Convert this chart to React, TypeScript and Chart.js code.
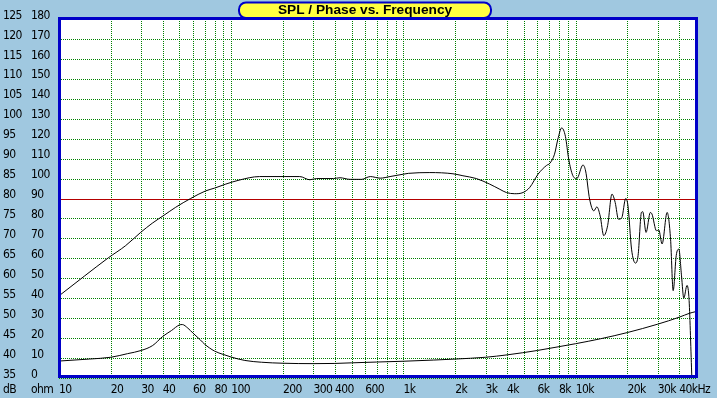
import { useEffect, useRef } from 'react';
import { Chart, registerables } from 'chart.js';

Chart.register(...registerables);

const TITLE = 'SPL / Phase vs. Frequency';

const SPL_FREQ = [10, 14, 19.3, 24.4, 29.8, 34.8, 40.7, 47.6, 58.1, 71, 80, 92.9, 111, 146, 205, 250, 286, 313, 392, 428, 490, 573, 642, 733, 836, 1000, 1068, 1424, 1940, 2217, 2652, 3170, 3631, 3960, 4430, 4950, 5420, 6050, 6780, 7080, 7540, 7880, 8300, 8720, 9120, 9620, 10160, 11030, 11430, 12060, 12760, 13280, 13890, 14560, 15340, 16260, 16970, 17730, 18540, 19530, 20130, 21120, 22260, 23050, 24100, 24530, 25640, 27150, 27750, 29490, 30400, 31770, 33990, 35590, 36850, 38380, 39760, 41200, 42470, 44330, 45600, 47300];
const SPL_DB = [55.6, 60.5, 65.1, 68.2, 71.5, 73.8, 75.8, 77.8, 80, 81.9, 82.6, 83.6, 84.6, 85.5, 85.5, 85.5, 84.7, 85, 85, 85.2, 84.8, 84.8, 85.5, 85.1, 85.5, 86.1, 86.3, 86.5, 86.2, 85.7, 85, 83.6, 82.3, 81.5, 81.2, 81.5, 82.8, 86.1, 88.3, 88.8, 91.1, 94.8, 97.7, 95.6, 89.8, 85.8, 85, 88.4, 86.9, 79.8, 76.9, 77.9, 75.6, 70.7, 73.2, 81.1, 79, 74.8, 75.2, 80, 78.2, 67.3, 63.8, 65.7, 76.5, 76.7, 71.5, 76.5, 76.1, 71.9, 72.1, 68.6, 76.5, 69.8, 56.9, 65.7, 67.3, 60.6, 55, 58.2, 54.4, 35];

const IMP_FREQ = [10, 15, 20, 25, 30, 35, 40, 45, 50, 52, 56, 60, 66, 70, 80, 90, 100, 120, 150, 200, 300, 400, 500, 700, 1000, 1500, 2000, 3000, 4000, 6000, 8000, 10000, 14000, 20000, 30000, 40000, 46000, 50000];
const IMP_OHM = [8.5, 9.5, 10.4, 12.2, 13.8, 16.3, 20.8, 23.8, 26.6, 26.8, 25, 22.5, 19.2, 17, 13.5, 11.8, 10.5, 8.8, 7.9, 7.4, 7.2, 7.3, 7.6, 8, 8.4, 9, 9.5, 10.4, 11.6, 13.8, 15.7, 17.2, 19.7, 22.8, 27, 30.5, 32.5, 33.3];

const X_TICKS = [10, 20, 30, 40, 50, 60, 70, 80, 90, 100, 200, 300, 400, 500, 600, 700, 800, 900, 1000, 2000, 3000, 4000, 5000, 6000, 7000, 8000, 9000, 10000, 20000, 30000, 40000, 50000];
const X_LABELS: Record<number, string> = {
  10: '10', 20: '20', 30: '30', 40: '40', 60: '60', 80: '80', 100: '100',
  200: '200', 300: '300', 400: '400', 600: '600', 1000: '1k', 2000: '2k',
  3000: '3k', 4000: '4k', 6000: '6k', 8000: '8k', 10000: '10k', 20000: '20k',
  30000: '30k', 40000: '40kHz',
};
const DB_MIN = 35;
const DB_MAX = 125;
const DB_STEP = 5;
const DB_REF = 80;
const OHM_MIN = 0;
const OHM_MAX = 180;
const OHM_STEP = 10;

const BG = '#a0c8e0';
const BLUE = '#0000c8';
const GREEN = '#008000';
const RED = '#b40000';
const YELLOW = '#ffff40';

function hasFont(name: string): boolean {
  const c = document.createElement('canvas').getContext('2d');
  if (!c) return false;
  const t = 'mmmwwwlli1250ohm';
  c.font = '20px monospace';
  const a = c.measureText(t).width;
  c.font = `20px "${name}", monospace`;
  const b = c.measureText(t).width;
  return Math.abs(a - b) > 0.5;
}

export default function App() {
  const ref = useRef<HTMLCanvasElement>(null);

  useEffect(() => {
    document.body.style.margin = '0';
    const canvas = ref.current;
    if (!canvas) return;

    let family = "'Liberation Sans', Arial, sans-serif";
    let size = 12;
    let spacing = '-0.5px';
    for (const n of ['Liberation Sans Narrow', 'Arial Narrow', 'DejaVu Sans Condensed', 'Noto Sans Condensed']) {
      if (hasFont(n)) {
        family = `'${n}', sans-serif`;
        size = n === 'Liberation Sans Narrow' || n === 'Arial Narrow' ? 13 : 12;
        spacing = n === 'Liberation Sans Narrow' || n === 'Arial Narrow' ? '0px' : '-0.6px';
        break;
      }
    }

    const dots = (ctx: CanvasRenderingContext2D, x: number, y: number, w: number, h: number) => {
      if (w === 1) {
        for (let yy = y; yy < y + h; yy += 2) ctx.fillRect(x, yy, 1, 1);
      } else {
        for (let xx = x; xx < x + w; xx += 2) ctx.fillRect(xx, y, 1, 1);
      }
    };

    const deco = {
      id: 'deco',
      beforeDraw(chart: any) {
        const { ctx, chartArea: a } = chart;
        ctx.save();
        ctx.fillStyle = BG;
        ctx.fillRect(0, 0, chart.width, chart.height);
        ctx.fillStyle = '#ffffff';
        ctx.fillRect(a.left, a.top, a.right - a.left, a.bottom - a.top);
        ctx.restore();
        ctx.letterSpacing = spacing;
      },
      beforeDatasetsDraw(chart: any) {
        const { ctx, chartArea: a, scales } = chart;
        const xs = scales.x;
        const ys = scales.y;
        const top = Math.round(a.top);
        const bottom = Math.round(a.bottom);
        const left = Math.round(a.left);
        const right = Math.round(a.right);
        ctx.save();
        ctx.fillStyle = GREEN;
        for (const v of X_TICKS) {
          const px = Math.round(xs.getPixelForValue(v));
          dots(ctx, px, top, 1, bottom - top);
        }
        for (let v = DB_MIN; v <= DB_MAX; v += DB_STEP) {
          const py = Math.round(ys.getPixelForValue(v));
          if (v === DB_REF) {
            ctx.fillStyle = RED;
            ctx.fillRect(left, py, right - left, 1);
            ctx.fillStyle = GREEN;
          } else {
            dots(ctx, left, py, right - left, 1);
          }
        }
        ctx.restore();
      },
      afterDraw(chart: any) {
        const { ctx, chartArea: a } = chart;
        ctx.save();
        ctx.fillStyle = BLUE;
        ctx.fillRect(a.left - 1, a.top - 2, a.right - a.left + 2, 3);
        ctx.fillRect(a.left - 1, a.bottom - 3, a.right - a.left + 2, 3);
        ctx.fillRect(a.left - 1, a.top - 2, 3, a.bottom - a.top + 2);
        ctx.fillRect(a.right - 1, a.top - 2, 3, a.bottom - a.top + 2);

        // title box
        const bx = 239, by = 2.5, bw = 252, bh = 15.5;
        ctx.beginPath();
        ctx.roundRect(bx, by, bw, bh, 7);
        ctx.fillStyle = YELLOW;
        ctx.fill();
        ctx.lineWidth = 2;
        ctx.strokeStyle = BLUE;
        ctx.stroke();
        ctx.fillStyle = '#000';
        ctx.letterSpacing = '0px';
        ctx.font = "bold 13.7px 'Liberation Sans', sans-serif";
        ctx.textAlign = 'center';
        ctx.textBaseline = 'middle';
        ctx.fillText(TITLE, bx + bw / 2, 10.5);

        // unit labels
        ctx.letterSpacing = spacing;
        ctx.font = `${size}px ${family}`;
        ctx.textAlign = 'left';
        ctx.fillText('dB', 3, 390);
        ctx.fillText('ohm', 31, 390);
        ctx.restore();
        ctx.letterSpacing = '0px';
      },
    };

    const tickFont = { family, size };

    const chart = new Chart(canvas, {
      type: 'line',
      data: {
        datasets: [
          {
            data: SPL_FREQ.map((f, i) => ({ x: f, y: SPL_DB[i] })),
            xAxisID: 'x',
            yAxisID: 'y',
            borderColor: '#000',
            borderWidth: 1,
            pointRadius: 0,
            cubicInterpolationMode: 'monotone',
          },
          {
            data: IMP_FREQ.map((f, i) => ({ x: f, y: IMP_OHM[i] })),
            xAxisID: 'x',
            yAxisID: 'y2',
            borderColor: '#000',
            borderWidth: 1,
            pointRadius: 0,
            cubicInterpolationMode: 'monotone',
          },
        ],
      },
      options: {
        responsive: false,
        animation: false,
        devicePixelRatio: 1,
        layout: { padding: { left: 3, right: 21, top: 19, bottom: 0 } },
        plugins: { legend: { display: false }, tooltip: { enabled: false }, title: { display: false } },
        scales: {
          x: {
            type: 'logarithmic',
            position: 'bottom',
            min: 10,
            max: 50000,
            afterBuildTicks: (s: any) => {
              s.ticks = X_TICKS.map((v) => ({ value: v }));
            },
            afterFit: (s: any) => {
              s.height = 20;
            },
            ticks: {
              autoSkip: false,
              maxRotation: 0,
              minRotation: 0,
              align: 'start',
              padding: 5,
              color: '#000',
              font: tickFont,
              callback: (v: any) => X_LABELS[Number(v)] ?? '',
            },
            grid: { display: false, drawTicks: false },
            border: { display: false },
          },
          y: {
            type: 'linear',
            position: 'left',
            weight: 2,
            min: DB_MIN,
            max: DB_MAX,
            afterFit: (s: any) => {
              s.width = 28;
            },
            ticks: {
              stepSize: DB_STEP,
              autoSkip: false,
              crossAlign: 'far',
              labelOffset: -3.5,
              padding: 0,
              color: '#000',
              font: tickFont,
            },
            grid: { display: false, drawTicks: false },
            border: { display: false },
          },
          y2: {
            type: 'linear',
            position: 'left',
            weight: 1,
            min: OHM_MIN,
            max: OHM_MAX,
            afterFit: (s: any) => {
              s.width = 28;
            },
            ticks: {
              stepSize: OHM_STEP,
              autoSkip: false,
              crossAlign: 'far',
              labelOffset: -3.5,
              padding: 0,
              color: '#000',
              font: tickFont,
            },
            grid: { display: false, drawTicks: false },
            border: { display: false },
          },
        },
      } as any,
      plugins: [deco],
    });

    return () => {
      chart.destroy();
    };
  }, []);

  return <canvas ref={ref} width={717} height={398} style={{ display: 'block', width: 717, height: 398 }} />;
}
